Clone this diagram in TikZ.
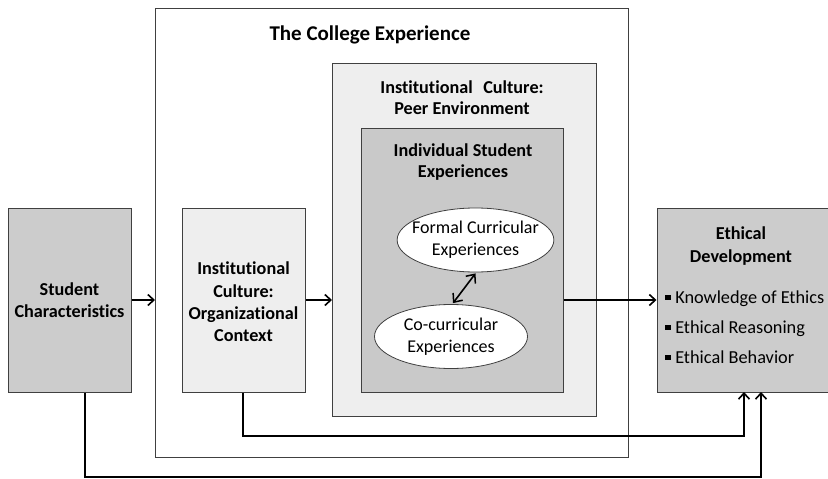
\documentclass[tikz,border=0pt]{standalone}
\usepackage{fontspec}
\setmainfont{Carlito}[Ligatures=NoCommon]
\usetikzlibrary{arrows.meta,shapes.geometric,calc}
\definecolor{boxdark}{HTML}{CCCCCC}
\definecolor{boxmid}{HTML}{C9C9C9}
\definecolor{boxlight}{HTML}{EEEEEE}
\definecolor{edgegray}{HTML}{404040}
\begin{document}
\begin{tikzpicture}[x=1pt,y=-1pt,
  box/.style={draw=edgegray,line width=0.8pt,anchor=north west,inner sep=0pt},
  lbl/.style={font=\fontsize{18.2}{22.3}\selectfont\bfseries,align=center,inner sep=0pt},
  txt/.style={font=\fontsize{18}{21.7}\selectfont,align=center,inner sep=0pt},
  oval/.style={ellipse,draw=edgegray,line width=0.8pt,fill=white,minimum width=153pt,minimum height=64pt,txt,inner xsep=-8pt,inner ysep=0pt},
  flow/.style={line width=1.6pt,-{Straight Barb[length=6pt,width=11pt,line width=1.6pt]}},
  biflow/.style={line width=1.6pt,{Straight Barb[length=7pt,width=12pt,line width=1.5pt]}-{Straight Barb[length=7pt,width=12pt,line width=1.5pt]}}
]
\useasboundingbox (0,0) rectangle (828,479);
\fill[white] (0,0) rectangle (828,479);

% boxes
\node[box,fill=boxdark,minimum width=123pt,minimum height=184pt] (sc) at (8,208) {};
\node[box,fill=white,minimum width=473pt,minimum height=449pt] (college) at (155,8) {};
\node[box,fill=boxlight,minimum width=123pt,minimum height=184pt] (org) at (182,208) {};
\node[box,fill=boxlight,minimum width=264pt,minimum height=353pt] (peer) at (332,63) {};
\node[box,fill=boxmid,minimum width=202pt,minimum height=264pt] (ind) at (361,128) {};
\node[box,fill=boxdark,minimum width=171pt,minimum height=184pt] (eth) at (656.5,208) {};

% texts
\node[lbl] (sctxt) at (69.5,300) {Student\\Characteristics};
\node[lbl,font=\fontsize{21}{24}\selectfont\bfseries] (coltxt) at (370,35) {The College Experience};
\node[lbl] (orgtxt) at (243.5,302) {Institutional\\Culture:\\Organizational\\Context};
\node[lbl,font=\fontsize{18.2}{21}\selectfont\bfseries] (peertxt) at (462,97.5) {Institutional\hspace{0.35em} Culture:\\Peer Environment};
\node[lbl,font=\fontsize{18.2}{21.5}\selectfont\bfseries] (indtxt) at (463,162) {Individual Student\\Experiences};
\node[lbl] (ethtxt) at (741,246) {Ethical\\Development};
\node[txt,font=\fontsize{18.3}{30}\selectfont,align=left,anchor=west] (ethlist) at (665,327) {%
  \rule[0.18em]{0.3em}{0.3em}\hspace{0.25em}Knowledge of Ethics\\
  \rule[0.18em]{0.3em}{0.3em}\hspace{0.25em}Ethical Reasoning\\
  \rule[0.18em]{0.3em}{0.3em}\hspace{0.25em}Ethical Behavior};

% ovals
\node[oval] (formal) at (475.5,240) {Formal Curricular\\Experiences};
\node[oval] (co) at (451,336.5) {Co-curricular\\Experiences};

% connectors
\draw[flow] (sc.east |- 0,300) -- (college.west |- 0,300);
\draw[flow] (org.east |- 0,300) -- (peer.west |- 0,300);
\draw[flow] (ind.east |- 0,300) -- (eth.west |- 0,300);
\draw[biflow] (co.north) ++(2,-1) -- ($(formal.south)+(0,1)$);

\coordinate (e1) at (744,392);
\coordinate (e2) at (761,392);
\draw[flow] (org.south -| 243,0) -- (243,436) -| (e1);
\draw[flow] (sc.south -| 85,0) -- (85,477) -| (e2);
\end{tikzpicture}
\end{document}
